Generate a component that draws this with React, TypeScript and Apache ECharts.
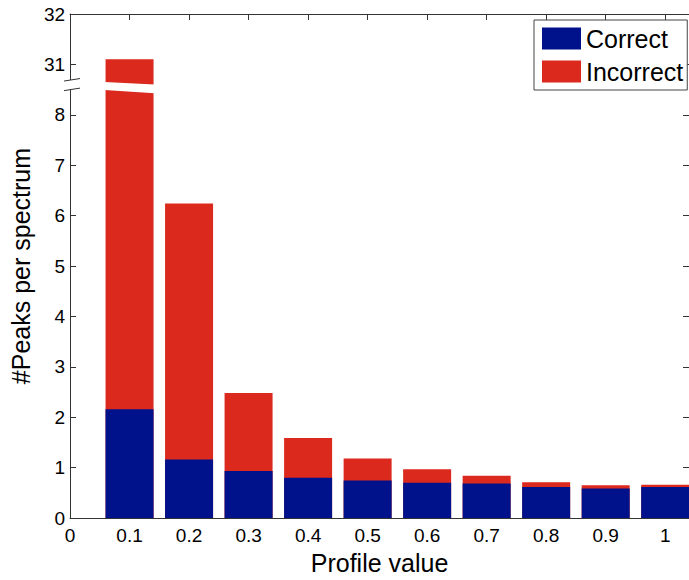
import React, { useEffect, useRef } from "react";
import * as echarts from "echarts";

const profileValues = [0.1, 0.2, 0.3, 0.4, 0.5, 0.6, 0.7, 0.8, 0.9, 1.0];
const correct = [2.16, 1.16, 0.935, 0.8, 0.745, 0.7, 0.686, 0.615, 0.588, 0.615];
const incorrect = [28.94, 5.08, 1.545, 0.79, 0.435, 0.27, 0.154, 0.095, 0.062, 0.045];
const yTickLabels = ["0", "1", "2", "3", "4", "5", "6", "7", "8", "31", "32"];

// broken y axis: values above the break are shifted down
const BREAK_AT = 8.55;
const BREAK_SHIFT = 22;
const toDisplay = (v: number) => (v > BREAK_AT ? v - BREAK_SHIFT : v);

const FONT = "Liberation Sans";
const BLUE = "#00128B";
const RED = "#DB291E";

export default function App() {
  const ref = useRef<HTMLDivElement>(null);
  useEffect(() => {
    if (!ref.current) return;
    const chart = echarts.init(ref.current, null, { renderer: "svg" });
    const axisLineStyle = { color: "#333", width: 1 };
    const tick = { show: true, inside: true, length: 6, lineStyle: axisLineStyle };
    const option: any = {
      animation: false,
      backgroundColor: "#fff",
      textStyle: { fontFamily: FONT, color: "#000" },
      grid: { left: 69, top: 14, width: 622, height: 509, containLabel: false },
      legend: {
        left: 534,
        top: 20,
        orient: "vertical",
        padding: [6, 4, 6, 8],
        itemWidth: 39,
        itemHeight: 22,
        itemGap: 8,
        icon: "rect",
        borderColor: "#444",
        borderWidth: 1,
        backgroundColor: "#fff",
        textStyle: { fontFamily: FONT, fontSize: 25, color: "#000", lineHeight: 22 },
        data: ["Correct", "Incorrect"],
      },
      xAxis: [
        {
          type: "value",
          position: "bottom",
          min: 0,
          max: 1.04,
          interval: 0.1,
          name: "Profile value",
          nameLocation: "middle",
          nameGap: 26,
          nameTextStyle: { fontFamily: FONT, fontSize: 25, color: "#000" },
          axisLine: { show: true, onZero: false, lineStyle: axisLineStyle },
          axisTick: tick,
          axisLabel: {
            show: true,
            margin: 8,
            fontFamily: FONT,
            fontSize: 19,
            color: "#000",
            showMaxLabel: false,
            formatter: (v: number) => String(Number(v.toFixed(1))),
          },
          splitLine: { show: false },
        },
        {
          type: "value",
          position: "top",
          min: 0,
          max: 1.04,
          interval: 0.1,
          axisLine: { show: true, onZero: false, lineStyle: axisLineStyle },
          axisTick: tick,
          axisLabel: { show: false },
          splitLine: { show: false },
        },
      ],
      yAxis: [
        {
          type: "value",
          position: "left",
          min: 0,
          max: 10,
          interval: 1,
          name: "#Peaks per spectrum",
          nameLocation: "middle",
          nameGap: 23,
          nameTextStyle: { fontFamily: FONT, fontSize: 25, color: "#000" },
          axisLine: { show: true, onZero: false, lineStyle: axisLineStyle },
          axisTick: tick,
          axisLabel: {
            show: true,
            margin: 5,
            fontFamily: FONT,
            fontSize: 19,
            color: "#000",
            formatter: (v: number) => yTickLabels[Math.round(v)] ?? "",
          },
          splitLine: { show: false },
        },
        {
          type: "value",
          position: "right",
          min: 0,
          max: 10,
          interval: 1,
          axisLine: { show: true, onZero: false, lineStyle: axisLineStyle },
          axisTick: tick,
          axisLabel: { show: false },
          splitLine: { show: false },
        },
      ],
      series: [
        {
          name: "Incorrect",
          type: "bar",
          barWidth: 48,
          xAxisIndex: 0,
          yAxisIndex: 0,
          z: 2,
          itemStyle: { color: RED },
          // drawn as the stack total (correct + incorrect); the correct bar overlays it
          data: profileValues.map((x, i) => [x, toDisplay(correct[i] + incorrect[i])]),
        },
        {
          name: "Correct",
          type: "bar",
          barWidth: 48,
          barGap: "-100%",
          xAxisIndex: 0,
          yAxisIndex: 0,
          z: 3,
          itemStyle: { color: BLUE },
          data: profileValues.map((x, i) => [x, correct[i]]),
        },
      ],
    };
    chart.setOption(option);

    // break marks, positioned through the chart's own scales
    const px = (x: number, y: number) => chart.convertToPixel({ gridIndex: 0 }, [x, y]) as number[];
    const graphics: any[] = [];
    profileValues.forEach((x, i) => {
      if (correct[i] + incorrect[i] <= BREAK_AT) return;
      const cx = px(x, 0)[0];
      const half = 25;
      const pts = [
        [cx - half, px(0, 8.49)[1]],
        [cx + half, px(0, 8.43)[1]],
        [cx + half, px(0, 8.6)[1]],
        [cx - half, px(0, 8.65)[1]],
      ];
      graphics.push({ type: "polygon", shape: { points: pts }, style: { fill: "#fff" }, z: 100 });
    });
    const ax = px(0, 0)[0];
    const yTop = px(0, 8.69)[1];
    const yBot = px(0, 8.5)[1];
    graphics.push({
      type: "rect",
      shape: { x: ax - 2, y: yTop, width: 4, height: yBot - yTop },
      style: { fill: "#fff" },
      z: 100,
    });
    graphics.push({
      type: "line",
      shape: { x1: ax - 6, y1: yTop + 1, x2: ax + 10, y2: yTop - 1.5 },
      style: { stroke: "#333", lineWidth: 1 },
      z: 101,
    });
    graphics.push({
      type: "line",
      shape: { x1: ax - 6, y1: yBot + 1, x2: ax + 10, y2: yBot - 1.5 },
      style: { stroke: "#333", lineWidth: 1 },
      z: 101,
    });
    chart.setOption({ graphic: graphics });

    return () => chart.dispose();
  }, []);
  return (
    <div
      ref={ref}
      style={{ position: "fixed", left: 0, top: 0, width: 689, height: 580, background: "#fff" }}
    />
  );
}
